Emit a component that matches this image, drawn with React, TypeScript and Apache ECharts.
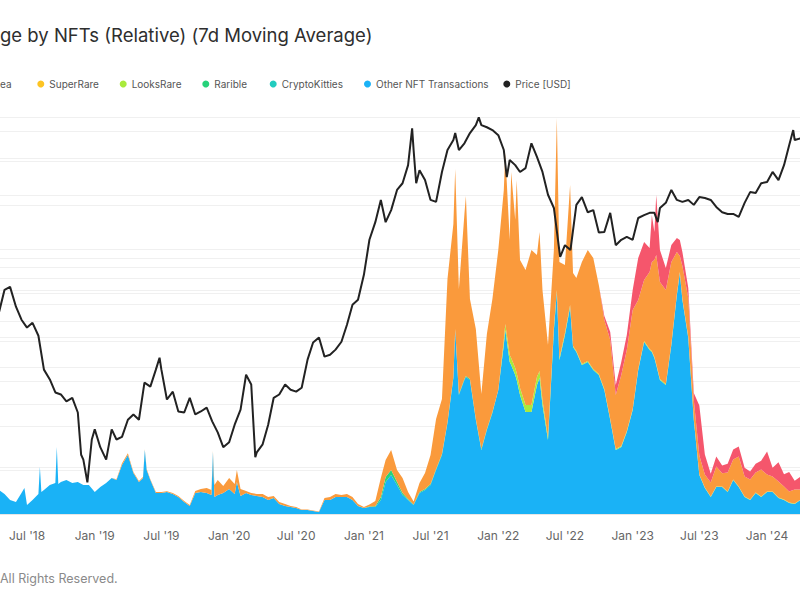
import React, { useEffect, useRef } from 'react';
import * as echarts from 'echarts';

const FONT = 'Inter, "Noto Sans", sans-serif';
const TITLE_VISIBLE = 'ge by NFTs (Relative) (7d Moving Average)';
const FOOTER_VISIBLE = 'All Rights Reserved.';
const MONTHS = ['Jan', 'Feb', 'Mar', 'Apr', 'May', 'Jun', 'Jul', 'Aug', 'Sep', 'Oct', 'Nov', 'Dec'];

const dates2018 = ['2018-04-16','2018-05-01','2018-05-16','2018-06-01','2018-06-16','2018-06-24','2018-07-01','2018-07-16','2018-08-01','2018-08-05','2018-08-09','2018-08-16','2018-09-01','2018-09-16','2018-09-20','2018-09-24','2018-10-01','2018-10-16','2018-11-01','2018-11-16','2018-12-01','2018-12-16'];
const dates2019 = ['2019-01-01','2019-01-16','2019-02-01','2019-02-16','2019-03-01','2019-03-16','2019-04-01','2019-04-16','2019-05-01','2019-05-12','2019-05-17','2019-05-22','2019-06-01','2019-06-16','2019-07-01','2019-07-16','2019-08-01','2019-08-16','2019-09-01','2019-09-16','2019-10-01','2019-10-16','2019-11-01','2019-11-14','2019-11-18','2019-11-22','2019-12-01','2019-12-16'];
const dates2020 = ['2020-01-01','2020-01-16','2020-01-22','2020-02-01','2020-02-16','2020-03-01','2020-03-16','2020-04-01','2020-04-16','2020-05-01','2020-05-16','2020-06-01','2020-06-16','2020-07-01','2020-07-16','2020-08-01','2020-08-16','2020-09-01','2020-09-16','2020-10-01','2020-10-16','2020-11-01','2020-11-16','2020-12-01','2020-12-16'];
const dates2021 = ['2021-01-01','2021-01-16','2021-02-01','2021-02-16','2021-03-01','2021-03-16','2021-04-01','2021-04-16','2021-05-01','2021-05-16','2021-06-01','2021-06-16','2021-07-01','2021-07-16','2021-08-01','2021-08-16','2021-09-01','2021-09-06','2021-09-16','2021-10-01','2021-10-05','2021-10-16','2021-11-01','2021-11-16','2021-12-01','2021-12-16'];
const dates2022 = ['2022-01-01','2022-01-16','2022-01-20','2022-02-01','2022-02-05','2022-02-16','2022-02-20','2022-03-01','2022-03-16','2022-04-01','2022-04-16','2022-04-23','2022-05-01','2022-05-16','2022-06-01','2022-06-09','2022-06-16','2022-07-01','2022-07-15','2022-07-23','2022-08-01','2022-08-16','2022-09-01','2022-09-16','2022-10-01','2022-10-16','2022-11-01','2022-11-16','2022-12-01','2022-12-16'];
const dates2023 = ['2023-01-01','2023-01-16','2023-02-01','2023-02-16','2023-02-22','2023-03-01','2023-03-06','2023-03-16','2023-04-01','2023-04-16','2023-05-01','2023-05-09','2023-05-16','2023-06-01','2023-06-16','2023-07-01','2023-07-16','2023-08-01','2023-08-16','2023-09-01','2023-09-16','2023-10-01','2023-10-16','2023-11-01','2023-11-16','2023-12-01','2023-12-16'];
const dates2024 = ['2024-01-01','2024-01-16','2024-02-01','2024-02-16','2024-03-01','2024-03-16','2024-04-01'];

const other2018 = [2.72, 2.27, 1.59, 1.36, 2.38, 2.95, 1.02, 1.59, 2.27, 5.33, 2.49, 2.72, 3.29, 3.51, 7.59, 3.4, 3.63, 3.85, 3.51, 3.63, 3.29, 3.29];
const other2019 = [2.49, 3.06, 3.51, 4.08, 3.85, 5.55, 6.69, 4.65, 3.63, 4.08, 7.25, 4.99, 3.85, 2.38, 2.38, 2.49, 2.27, 1.93, 1.36, 0.91, 2.38, 2.49, 2.38, 2.15, 7.03, 1.93, 2.15, 2.38];
const other2020 = [2.83, 2.27, 3.63, 2.04, 2.38, 2.15, 2.04, 1.93, 1.59, 1.81, 1.13, 0.91, 0.79, 0.68, 0.45, 0.45, 0.34, 0.23, 1.59, 1.59, 1.93, 1.93, 1.93, 1.59, 0.91];
const other2021 = [0.68, 0.79, 0.79, 1.59, 3.63, 4.42, 3.29, 2.15, 1.59, 1.02, 2.38, 2.72, 3.29, 4.99, 6.69, 10.32, 15.42, 20.86, 13.49, 15.19, 15.53, 15.19, 10.66, 7.25, 9.52, 11.45];
const other2022 = [14.06, 19.16, 20.86, 17.23, 16.89, 15.76, 15.19, 13.49, 11.56, 11.56, 14.62, 15.42, 12.36, 8.39, 20.86, 25.16, 17.46, 20.29, 23.46, 18.93, 18.36, 16.89, 17.23, 16.32, 15.76, 14.06, 10.66, 7.25, 7.59, 9.29];
const other2023 = [11.79, 16.32, 19.5, 18.59, 18.36, 17.68, 16.89, 15.19, 14.62, 19.16, 24.82, 27.32, 24.26, 19.95, 10.66, 4.42, 2.95, 1.93, 3.06, 3.06, 2.49, 3.85, 3.06, 1.93, 1.59, 2.38, 1.93];
const other2024 = [2.49, 2.49, 1.81, 1.59, 1.25, 1.13, 1.59];

const rarible2021 = [0, 0.05, 0.1, 0.34, 0.57, 0.57, 0.34, 0.23, 0.11, 0.06, 0.11, 0.11, 0.11, 0.11, 0.11, 0.11, 0.11, 0.11, 0.11, 0.11, 0.11, 0.11, 0.11, 0.11, 0.11, 0.11];

const looksRare2022 = [0, 0.57, 0.68, 0.79, 0.79, 0.79, 0.79, 0.79, 0.79, 0.79, 0.91, 0.79, 0.57, 0.34, 0.34, 0.23, 0.23, 0.23, 0.23, 0.11, 0.11, 0.11, 0.11, 0.11, 0.11, 0.11, 0.11, 0.11, 0.11, 0.11];
const looksRare2023 = [0.11, 0.11, 0.11, 0.11, 0.11, 0.11, 0.11, 0.11, 0.11, 0.11, 0.11, 0.11, 0.11, 0.11, 0.11, 0.05, 0.05, 0.05, 0.05, 0.05, 0.05, 0.05, 0.05, 0.05, 0.05, 0.05, 0.05];
const looksRare2024 = [0.05, 0.05, 0.05, 0.05, 0.05, 0.05, 0.05];

const openSea2019 = [0, 0, 0, 0, 0.1, 0.2, 0.2, 0.1, 0.1, 0.1, 0.1, 0.1, 0.1, 0.1, 0.1, 0.1, 0.1, 0.1, 0.1, 0.1, 0.23, 0.34, 0.57, 0.57, 0.1, 1.36, 1.7, 0.79];
const openSea2020 = [1.25, 1.13, 1.36, 0.79, 0.23, 0.23, 0.23, 0.34, 0.34, 0.23, 0.23, 0.23, 0.11, 0.11, 0.06, 0.06, 0.06, 0.06, 0.23, 0.34, 0.34, 0.23, 0.34, 0.34, 0.23];
const openSea2021 = [0.11, 0.23, 0.57, 2.15, 1.93, 2.27, 1.36, 1.7, 0.79, 0.34, 1.02, 1.81, 3.29, 5.67, 6.23, 16.21, 17.34, 18.14, 11.9, 18.7, 20.4, 9.07, 10.2, 6.23, 10.77, 12.81];
const openSea2022 = [15.87, 17.0, 19.38, 13.04, 21.08, 16.78, 21.88, 14.51, 15.3, 17.57, 13.83, 15.76, 12.47, 10.43, 8.73, 19.5, 10.88, 7.71, 13.6, 8.27, 8.27, 11.56, 12.58, 12.58, 10.09, 7.82, 8.96, 6.12, 8.05, 9.18];
const openSea2023 = [11.22, 7.82, 6.91, 8.73, 10.09, 11.0, 12.36, 11.0, 10.66, 9.29, 4.76, 1.81, 3.74, 4.42, 2.15, 2.15, 1.47, 1.59, 2.27, 1.5, 2.15, 2.27, 3.4, 2.27, 2.27, 2.27, 3.06];
const openSea2024 = [1.93, 1.7, 1.81, 1.47, 1.25, 1.59, 1.13];

const blurLate2022 = [0.45, 0.91, 1.13, 1.47, 1.7];
const blur2023 = [2.27, 4.76, 4.31, 2.72, 5.33, 3.17, 6.8, 3.63, 2.49, 1.93, 1.59, 1.81, 1.59, 1.13, 0.79, 5.67, 2.27, 1.0, 1.13, 0.9, 1.0, 1.13, 1.13, 1.0, 0.9, 1.0, 1.0];
const blur2024 = [2.61, 1.0, 2.2, 1.4, 2.2, 1.0, 1.47];

const priceDates = [
  '2018-04-16','2018-05-01','2018-05-16','2018-06-01','2018-06-16','2018-07-01','2018-07-16','2018-08-01','2018-08-16','2018-09-01','2018-09-16','2018-10-01','2018-10-16','2018-11-01','2018-11-16','2018-11-25','2018-12-01','2018-12-12','2018-12-24',
  '2019-01-01','2019-01-16','2019-02-01','2019-02-16','2019-03-01','2019-03-16','2019-04-01','2019-04-16','2019-05-01','2019-05-16','2019-06-01','2019-06-16','2019-06-26','2019-07-01','2019-07-16','2019-08-01','2019-08-16','2019-09-01','2019-09-16','2019-10-01','2019-10-16','2019-11-01','2019-11-16','2019-12-01','2019-12-16',
  '2020-01-01','2020-01-16','2020-02-01','2020-02-16','2020-03-01','2020-03-12','2020-03-16','2020-04-01','2020-04-16','2020-05-01','2020-05-16','2020-06-01','2020-06-16','2020-07-01','2020-07-16','2020-08-01','2020-08-16','2020-09-01','2020-09-16','2020-10-01','2020-10-16','2020-11-01','2020-11-16','2020-12-01','2020-12-16',
  '2021-01-01','2021-01-16','2021-02-01','2021-02-16','2021-03-01','2021-03-16','2021-04-01','2021-04-16','2021-05-01','2021-05-12','2021-05-16','2021-05-23','2021-06-01','2021-06-16','2021-07-01','2021-07-16','2021-08-01','2021-08-16','2021-09-01','2021-09-06','2021-09-16','2021-10-01','2021-10-16','2021-11-01','2021-11-09','2021-11-16','2021-12-01','2021-12-16',
  '2022-01-01','2022-01-16','2022-01-24','2022-02-01','2022-02-16','2022-03-01','2022-03-16','2022-04-01','2022-04-16','2022-05-01','2022-05-16','2022-06-01','2022-06-18','2022-07-01','2022-07-16','2022-08-01','2022-08-16','2022-09-01','2022-09-16','2022-10-01','2022-10-16','2022-11-01','2022-11-16','2022-12-01','2022-12-16',
  '2023-01-01','2023-01-16','2023-02-01','2023-02-16','2023-03-01','2023-03-10','2023-03-16','2023-04-01','2023-04-16','2023-05-01','2023-05-16','2023-06-01','2023-06-16','2023-07-01','2023-07-16','2023-08-01','2023-08-16','2023-09-01','2023-09-16','2023-10-01','2023-10-16','2023-11-01','2023-11-16','2023-12-01','2023-12-16',
  '2024-01-01','2024-01-16','2024-02-01','2024-02-16','2024-03-01','2024-03-12','2024-03-16','2024-04-01',
];
const priceUsd = [
  550, 704, 727, 585, 507, 465, 490, 425, 293, 263, 228, 223, 207, 215, 183, 115, 109, 85, 136,
  152, 125, 109, 152, 136, 140, 169, 179, 169, 254, 243, 293, 334, 293, 211, 230, 185, 183, 215, 179, 185, 193, 166, 147, 125,
  132, 160, 189, 277, 249, 112, 118, 129, 160, 215, 223, 249, 235, 230, 240, 327, 395, 417, 338, 345, 365, 398, 480, 597, 631,
  830, 1220, 1480, 1890, 1480, 1690, 2110, 2270, 2770, 4150, 3270, 2270, 2620, 2350, 1890, 1850, 2570, 3270, 3650, 3940, 3270, 3520, 3940, 4300, 4680, 4300, 4200, 4070,
  3850, 3270, 2430, 2930, 2770, 2570, 2680, 3520, 3030, 2570, 2000, 1730, 1010, 1150, 1090, 1790, 1950, 1650, 1690, 1320, 1330, 1640, 1150, 1220, 1260,
  1220, 1550, 1600, 1640, 1640, 1480, 1730, 1830, 2110, 1890, 1850, 1890, 1790, 1950, 1930, 1890, 1750, 1650, 1620, 1620, 1570, 1830, 2060, 2040, 2270,
  2300, 2570, 2350, 2770, 3450, 4070, 3650, 3720,
];

const priceGridLines = [100, 200, 300, 400, 500, 600, 700, 800, 900, 1000, 2000, 3000, 4000];

const zeros = (n: number) => new Array(n).fill(0);

const areaDates = [...dates2018, ...dates2019, ...dates2020, ...dates2021, ...dates2022, ...dates2023, ...dates2024];
const otherValues = [...other2018, ...other2019, ...other2020, ...other2021, ...other2022, ...other2023, ...other2024];
const raribleValues = [...zeros(dates2018.length + dates2019.length + dates2020.length), ...rarible2021, ...zeros(dates2022.length + dates2023.length + dates2024.length)];
const looksRareValues = [...zeros(dates2018.length + dates2019.length + dates2020.length + dates2021.length), ...looksRare2022, ...looksRare2023, ...looksRare2024];
const openSeaValues = [...zeros(dates2018.length), ...openSea2019, ...openSea2020, ...openSea2021, ...openSea2022, ...openSea2023, ...openSea2024];
const blurValues = [...zeros(areaDates.length - blurLate2022.length - blur2023.length - blur2024.length), ...blurLate2022, ...blur2023, ...blur2024];

const COLORS: Record<string, string> = {
  Blur: '#f5566c',
  OpenSea: '#fa9a3c',
  SuperRare: '#fdc423',
  LooksRare: '#a9ea3c',
  Rarible: '#27d27a',
  CryptoKitties: '#22ccbf',
  'Other NFT Transactions': '#1ab2f6',
  'Price [USD]': '#222222',
};

// OpenSea's dot lies left of the picture; only the tail of its label ("ea") shows.
const legendSpots: { name: string; left: number; shown?: string }[] = [
  { name: 'OpenSea', left: -12, shown: 'ea' },
  { name: 'SuperRare', left: 37.3 },
  { name: 'LooksRare', left: 119.7 },
  { name: 'Rarible', left: 202.3 },
  { name: 'CryptoKitties', left: 269.7 },
  { name: 'Other NFT Transactions', left: 364 },
  { name: 'Price [USD]', left: 503.3 },
];

function areaSeries(name: string, values: number[]) {
  const color = COLORS[name];
  return {
    name, type: 'line', stack: 'gas', yAxisIndex: 0,
    data: areaDates.map((d, i) => [d, values[i]]),
    showSymbol: false, symbol: 'none', color,
    itemStyle: { color }, lineStyle: { width: 0, color },
    areaStyle: { color, opacity: 1 },
    emphasis: { disabled: true }, silent: true, z: 2,
  };
}

function emptySeries(name: string) {
  const color = COLORS[name];
  return { name, type: 'line', yAxisIndex: 0, data: [], color, itemStyle: { color }, showSymbol: false };
}

export default function App() {
  const ref = useRef<HTMLDivElement>(null);

  useEffect(() => {
    if (!ref.current) return;
    const chart = echarts.init(ref.current, null, { renderer: 'svg' });
    const option: any = {
      animation: false,
      backgroundColor: '#ffffff',
      textStyle: { fontFamily: FONT },
      title: [
        { text: TITLE_VISIBLE, left: 0, top: 25, padding: 0,
          textStyle: { fontSize: 18.5, fontWeight: 'normal', color: '#2e2e2e', fontFamily: FONT } },
        { text: FOOTER_VISIBLE, left: 0, top: 572, padding: 0,
          textStyle: { fontSize: 12.5, fontWeight: 'normal', color: '#8a8a8a', fontFamily: FONT } },
      ],
      legend: legendSpots.map((s) => ({
        data: [s.name],
        left: s.left,
        top: 79,
        padding: 0,
        itemWidth: 7,
        itemHeight: 7,
        icon: 'circle',
        selectedMode: false,
        ...(s.shown ? { formatter: () => s.shown } : {}),
        textStyle: { fontSize: 10, color: '#555555', fontFamily: FONT },
      })),
      grid: { left: 0, right: 0, top: 117, bottom: 86, containLabel: false, outerBoundsMode: 'none' },
      xAxis: {
        type: 'time',
        min: '2018-04-18 16:00:00',
        max: '2024-03-30 10:00:00',
        splitNumber: 12,
        axisLine: { show: true, lineStyle: { color: '#e6e6e6' } },
        axisTick: { show: false },
        splitLine: { show: false },
        axisLabel: {
          color: '#666666', fontSize: 12, margin: 15, fontFamily: FONT,
          formatter: (value: number) => {
            const d = new Date(value);
            return `${MONTHS[d.getMonth()]} '${String(d.getFullYear()).slice(2)}`;
          },
        },
      },
      yAxis: [
        { type: 'value', min: 0, max: 45, interval: 5,
          axisLabel: { show: false }, axisLine: { show: false }, axisTick: { show: false },
          splitLine: { show: true, lineStyle: { color: '#f0f0f0', width: 1 } } },
        { type: 'log', logBase: 10, min: 60, max: 4700,
          axisLabel: { show: false }, axisLine: { show: false }, axisTick: { show: false },
          splitLine: { show: false } },
      ],
      series: [
        {
          type: 'line', yAxisIndex: 1, data: [], silent: true, z: 0,
          markLine: {
            silent: true, z: 1, symbol: ['none', 'none'], label: { show: false },
            lineStyle: { color: '#f0f0f0', width: 1, type: 'solid' },
            emphasis: { disabled: true },
            data: priceGridLines.map((v) => ({ yAxis: v })),
          },
        },
        areaSeries('Other NFT Transactions', otherValues),
        emptySeries('CryptoKitties'),
        areaSeries('Rarible', raribleValues),
        areaSeries('LooksRare', looksRareValues),
        emptySeries('SuperRare'),
        areaSeries('OpenSea', openSeaValues),
        areaSeries('Blur', blurValues),
        {
          name: 'Price [USD]', type: 'line', yAxisIndex: 1,
          data: priceDates.map((d, i) => [d, priceUsd[i]]),
          showSymbol: false, symbol: 'none', color: COLORS['Price [USD]'],
          itemStyle: { color: COLORS['Price [USD]'] },
          lineStyle: { width: 2, color: COLORS['Price [USD]'] },
          emphasis: { disabled: true }, z: 5,
        },
      ],
    };
    chart.setOption(option);
    return () => chart.dispose();
  }, []);

  return (
    <div ref={ref} style={{ position: 'absolute', left: 0, top: 0, width: 800, height: 600, background: '#fff' }} />
  );
}
